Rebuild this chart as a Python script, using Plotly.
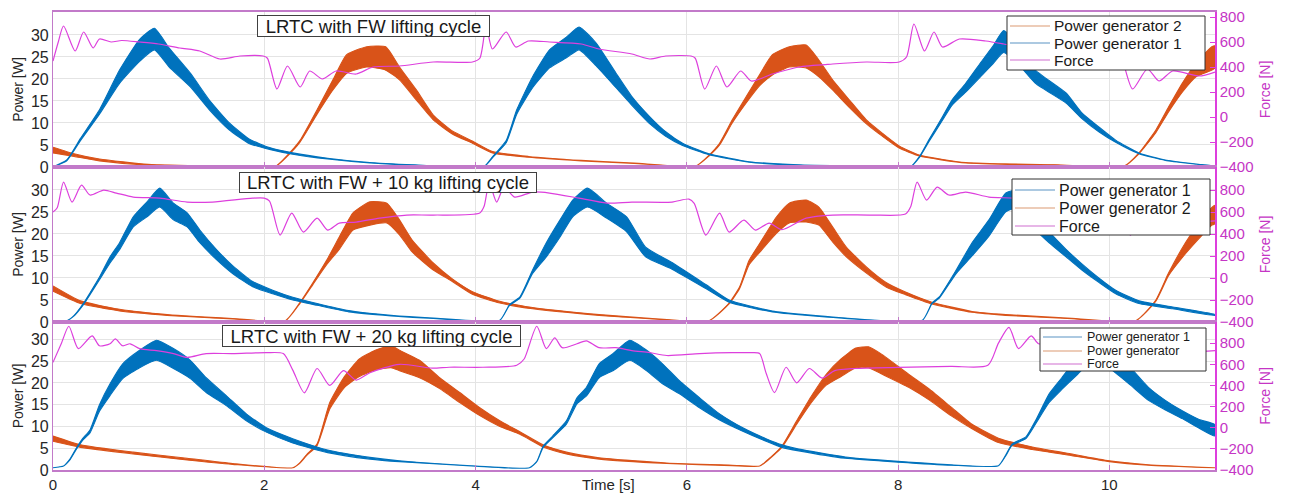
import plotly.graph_objects as go

# ---------------- data ----------------
# Panel 1: LRTC with FW lifting cycle
P1_G1_T = [0, 0.13, 0.26, 0.44, 0.63, 0.82, 0.96, 1.1, 1.3, 1.48, 1.67, 1.86, 2.05, 2.27, 2.6, 3.0, 3.5, 4.08,
           4.16, 4.29, 4.39, 4.54, 4.7, 4.86, 4.98, 5.14, 5.33, 5.48, 5.65, 5.8, 5.96, 6.21, 6.59, 7.06, 7.7, 8.12,
           8.2, 8.29, 8.42, 8.51, 8.64, 8.8, 8.9, 9.0, 9.15, 9.3, 9.59, 9.74, 9.9, 10.06, 10.28, 10.53, 10.97, 11.0]
P1_G1_HI = [0, 1.6, 6.5, 13, 22, 29, 31.5, 27, 21.3, 15.2, 10, 6.3, 4.4, 3.2, 2.0, 1.0, 0.4, 0.1,
            2.3, 6.0, 13, 20.5, 26.6, 29.5, 31.8, 28.2, 21.3, 16, 11.4, 8, 5.4, 3.0, 1.2, 0.5, 0.2, 0.1,
            2.3, 6.1, 11.4, 15.2, 19, 24.3, 27.5, 31, 27.5, 22, 16.8, 12.3, 9.1, 6.1, 3.2, 1.6, 0.3, 0.3]
P1_G1_LO = [0, 1.4, 6.0, 12, 19, 24, 26.6, 22.7, 18.2, 13, 8.4, 5.3, 4.0, 2.9, 1.8, 0.9, 0.3, 0.1,
            2.1, 5.5, 12, 18, 22.5, 24.8, 26.6, 23, 18, 14, 9.8, 7, 4.9, 2.8, 1.1, 0.4, 0.2, 0.1,
            2.1, 5.7, 10.6, 14, 17, 21, 23.5, 26, 23, 19, 14.5, 11, 8, 5.6, 3.0, 1.5, 0.3, 0.3]

P1_G2_T = [0, 0.2, 0.44, 0.9, 1.5, 2.1,
           2.22, 2.34, 2.5, 2.65, 2.78, 2.97, 3.15, 3.28, 3.44, 3.6, 3.78, 3.97, 4.16, 4.5, 5.0, 5.5, 6.09,
           6.21, 6.31, 6.43, 6.56, 6.69, 6.81, 6.97, 7.13, 7.25, 7.38, 7.54, 7.7, 7.85, 8.01, 8.2, 8.64, 9.5, 10.14,
           10.28, 10.44, 10.56, 10.69, 10.82, 10.97, 11.0]
P1_G2_HI = [4.5, 3.0, 1.8, 0.6, 0.2, 0.05,
            2.7, 6.1, 13, 19.8, 25.5, 27.3, 27.3, 22.7, 17.5, 11.8, 8.2, 5.9, 3.5, 2.4, 1.5, 0.9, 0.3,
            2.7, 5.4, 10.7, 15.9, 21, 25.5, 27.3, 27.7, 24.3, 19.8, 15.2, 10.7, 7.7, 4.8, 2.7, 1.0, 0.5, 0.2,
            3.2, 8.4, 13.6, 19, 23.6, 27.3, 27.5]
P1_G2_LO = [3.2, 2.4, 1.4, 0.4, 0.15, 0.05,
            2.5, 5.7, 12, 17.5, 21.3, 22.7, 22, 19.8, 15.2, 10.7, 7.5, 5.4, 3.2, 2.2, 1.4, 0.8, 0.3,
            2.5, 5.0, 10, 14.5, 18.5, 20.9, 22.7, 22.5, 20.5, 17.5, 13.5, 9.8, 7, 4.3, 2.5, 0.9, 0.4, 0.2,
            3.0, 7.8, 12.5, 17, 20.5, 22, 22.5]

P1_F_T = [0, 0.05, 0.1, 0.21, 0.29, 0.38, 0.44, 0.55, 0.65, 0.82, 1.0, 1.2, 1.39, 1.58, 1.77, 1.99,
          2.03, 2.12, 2.22, 2.34, 2.43, 2.55, 2.68, 2.87, 3.03, 3.28, 3.6, 3.97,
          4.04, 4.1, 4.16, 4.29, 4.38, 4.5, 4.7, 5.0, 5.17, 5.48, 5.65, 5.8, 6.04,
          6.08, 6.17, 6.28, 6.38, 6.51, 6.61, 6.81, 7.06, 7.38, 7.7, 8.01,
          8.08, 8.15, 8.25, 8.34, 8.42, 8.58, 8.83, 9.0, 9.2, 9.45, 9.65, 9.85, 10.1,
          10.13, 10.22, 10.36, 10.47, 10.6, 10.85, 11.0]
P1_F = [448, 600, 728, 528, 680, 552, 624, 600, 612, 600, 584, 552, 528, 464, 488, 488,
        470, 224, 408, 240, 368, 304, 368, 344, 400, 408, 440, 440,
        470, 728, 544, 680, 560, 608, 600, 584, 544, 504, 464, 488, 488,
        470, 224, 408, 240, 368, 288, 344, 400, 424, 440, 440,
        480, 744, 528, 680, 560, 624, 608, 584, 552, 528, 464, 488, 488,
        440, 224, 384, 288, 368, 328, 360]

# Panel 2: LRTC with FW + 10 kg lifting cycle
P2_G1_T = [0, 0.13, 0.2, 0.29, 0.35, 0.44, 0.54, 0.63, 0.76, 0.89, 1.01, 1.14, 1.27, 1.39, 1.55, 1.7, 1.89, 2.08, 2.27, 2.5, 2.8, 3.2, 3.6, 4.23,
           4.32, 4.42, 4.54, 4.67, 4.8, 4.92, 5.06, 5.24, 5.43, 5.61, 5.86, 6.18, 6.4, 6.81, 7.44, 8.23,
           8.32, 8.39, 8.55, 8.7, 8.86, 9.02, 9.15, 9.3, 9.43, 9.59, 9.74, 9.9, 10.06, 10.28, 10.6, 11.0]
P2_G1_HI = [0.3, 0.3, 1.5, 4.3, 6.6, 10.2, 14.8, 18, 23.9, 27.3, 30.4, 27, 24.8, 20.9, 16.4, 12.8, 9.2, 7.2, 5.6, 4.2, 2.6, 1.5, 0.9, 0.4,
            3.9, 5.7, 11.8, 18, 23.2, 27.7, 30.4, 27, 23.9, 17, 13.5, 8.5, 5.0, 2.5, 1.0, 0.4,
            4.3, 5.7, 11.8, 18, 23.2, 29.3, 30, 24.5, 20.5, 16.5, 13.2, 10, 7.2, 4.8, 3.4, 1.7]
P2_G1_LO = [0.3, 0.3, 1.4, 4.0, 6.2, 9.6, 13.4, 16.4, 21.6, 23.9, 26.1, 23.2, 21.6, 18, 14.1, 11, 8, 6.4, 5.0, 3.8, 2.3, 1.4, 0.8, 0.4,
            3.7, 5.4, 11, 14.8, 19.3, 23.9, 26.1, 23.6, 20.5, 14.8, 12, 7.6, 4.5, 2.3, 0.9, 0.4,
            4.1, 5.4, 11, 15, 19.5, 25, 26, 21, 18, 14.8, 11.8, 9, 6.4, 4.2, 3.0, 1.5]

P2_G2_T = [0, 0.26, 0.63, 1.08, 1.7, 2.2,
           2.34, 2.46, 2.59, 2.71, 2.84, 3.0, 3.16, 3.28, 3.4, 3.6, 3.78, 3.97, 4.23, 4.54, 5.17, 5.61, 6.21,
           6.4, 6.5, 6.59, 6.71, 6.85, 6.97, 7.13, 7.25, 7.38, 7.51, 7.7, 7.89, 8.07, 8.32, 8.7, 9.02, 9.6, 10.25,
           10.44, 10.56, 10.72, 10.85, 10.97, 11.0]
P2_G2_HI = [8.2, 4.8, 2.9, 1.7, 0.8, 0.3,
            4.5, 8.9, 14, 19.3, 24.8, 27.3, 27, 23.2, 18.6, 13.4, 9.8, 6.9, 4.7, 3.3, 1.7, 0.9, 0.3,
            4.3, 8, 14, 18.6, 23.9, 27, 27.7, 26.1, 21.6, 17, 12.5, 8.9, 6.8, 4.5, 2.4, 1.7, 0.9, 0.3,
            5, 11.1, 18, 22.5, 26, 26.5]
P2_G2_LO = [7.0, 4.2, 2.5, 1.5, 0.7, 0.3,
            4.3, 8.5, 13, 16.5, 20.9, 22, 22.5, 19.8, 15.9, 11.8, 9.2, 6.3, 4.3, 3.0, 1.5, 0.8, 0.3,
            4.1, 7.6, 13, 16.4, 20.2, 22.5, 22.7, 22, 18.2, 14.8, 11.1, 7.9, 6.2, 4.1, 2.2, 1.5, 0.8, 0.3,
            4.7, 10.5, 15.5, 19, 22, 22.3]

P2_F_T = [0, 0.04, 0.1, 0.18, 0.27, 0.35, 0.48, 0.6, 0.76, 1.01, 1.27, 1.51, 1.89, 2.0,
          2.05, 2.15, 2.26, 2.37, 2.5, 2.6, 2.71, 2.87, 3.09, 3.35, 3.6, 4.04,
          4.08, 4.13, 4.2, 4.27, 4.37, 4.54, 4.7, 4.98, 5.24, 5.48, 5.86, 6.02,
          6.07, 6.18, 6.31, 6.4, 6.54, 6.65, 6.78, 6.9, 7.13, 7.38, 7.75, 8.07,
          8.12, 8.18, 8.27, 8.37, 8.48, 8.64, 8.86, 9.1, 9.4, 9.7, 10.05,
          10.1, 10.2, 10.33, 10.43, 10.56, 10.67, 10.8, 11.0]
P2_F = [600, 640, 873, 691, 845, 755, 800, 773, 736, 727, 691, 691, 727, 727,
        700, 391, 591, 418, 545, 436, 500, 509, 545, 573, 573, 591,
        650, 864, 691, 827, 736, 782, 773, 727, 682, 691, 691, 718,
        680, 391, 591, 418, 527, 436, 500, 440, 545, 573, 573, 582,
        650, 873, 709, 827, 755, 782, 736, 727, 691, 691, 718,
        680, 391, 591, 418, 530, 436, 500, 520]

# Panel 3: LRTC with FW + 20 kg lifting cycle
P3_G1_T = [0, 0.1, 0.16, 0.22, 0.28, 0.35, 0.44, 0.54, 0.66, 0.82, 0.98, 1.14, 1.3, 1.45, 1.64, 1.83, 2.02, 2.27, 2.6, 3.0, 3.28, 4.0, 4.51,
           4.58, 4.64, 4.73, 4.86, 4.96, 5.05, 5.17, 5.3, 5.46, 5.62, 5.77, 5.93, 6.12, 6.31, 6.53, 6.75, 6.9, 7.06, 7.5, 8.0, 8.5, 8.95,
           9.02, 9.08, 9.21, 9.3, 9.43, 9.55, 9.7, 9.85, 10.02, 10.2, 10.37, 10.53, 10.69, 10.85, 11.0]
P3_G1_HI = [0.5, 0.9, 2.5, 5, 7.2, 9.2, 15, 19.8, 24.4, 27.5, 29.8, 27.9, 25.2, 21.2, 17.1, 12.9, 9.7, 7.2, 4.6, 2.9, 2.1, 0.9, 0.5,
            2, 5.5, 7.8, 11.3, 16.6, 19, 24.4, 26.7, 29.8, 27.5, 24.4, 20.5, 16.6, 12.9, 9.7, 7.2, 5.8, 4.8, 3.0, 2.0, 1.2, 1.0,
            3.5, 6, 7.6, 11.3, 17.5, 21.2, 26, 29.8, 27.5, 23.5, 19, 16, 13.6, 11.6, 10.4]
P3_G1_LO = [0.5, 0.9, 2.3, 4.7, 6.8, 8.5, 13.5, 17.1, 21, 23.5, 25.2, 23.3, 21, 17.8, 14.8, 11.3, 8.7, 6.2, 4.0, 2.5, 1.9, 0.9, 0.5,
            1.9, 5.2, 7.4, 10.5, 15.2, 17, 21.2, 22.8, 25.2, 22.8, 19.8, 17.5, 14.3, 11.5, 8.9, 6.6, 5.2, 4.4, 2.7, 1.8, 1.1, 1.0,
            3.3, 5.7, 7.2, 10.5, 15.5, 18.5, 22, 25.2, 23, 19.5, 16, 13.8, 11.8, 9.6, 7.8]

P3_G2_T = [0, 0.26, 0.76, 1.27, 1.7, 2.27,
           2.33, 2.4, 2.5, 2.62, 2.76, 2.9, 3.05, 3.2, 3.28, 3.47, 3.66, 3.85, 4.04, 4.23, 4.42, 4.64, 4.86, 5.17, 5.81, 6.43, 6.69,
           6.75, 6.9, 7.04, 7.18, 7.32, 7.46, 7.6, 7.72, 7.85, 8.1, 8.3, 8.5, 8.7, 8.95, 9.27, 9.59, 10.0, 10.37, 11.0]
P3_G2_HI = [7.8, 5.8, 4.1, 2.7, 1.5, 0.5,
            1.5, 3.5, 6, 15.5, 21.5, 25.5, 27.5, 28.6, 27.5, 25.2, 21.2, 17.8, 14.3, 11.3, 8.8, 5.8, 4.1, 2.8, 1.6, 1.1, 0.9,
            2, 5.5, 11.3, 17, 22, 25.5, 28, 28.3, 26.5, 22, 18.5, 14.5, 10.5, 7.3, 5.3, 3.9, 2.1, 1.2, 0.5]
P3_G2_LO = [6.6, 5.2, 3.7, 2.3, 1.3, 0.5,
            1.4, 3.3, 5.6, 14, 19, 21.5, 23, 23.5, 22.8, 21.2, 18.7, 15.5, 12.5, 10, 8.2, 5.3, 3.7, 2.5, 1.5, 1.0, 0.9,
            1.9, 5.2, 10.5, 15.5, 19.5, 21.5, 23.5, 23.5, 22, 19, 16, 12.5, 9.5, 6.3, 4.7, 3.5, 1.9, 1.1, 0.5]

P3_F_T = [0, 0.08, 0.15, 0.24, 0.37, 0.44, 0.54, 0.59, 0.66, 0.73, 0.82, 0.98, 1.14, 1.27, 1.45, 1.7, 2.02, 2.18,
          2.27, 2.38, 2.5, 2.62, 2.75, 2.87, 3.0, 3.28, 3.59, 3.75, 4.07, 4.39,
          4.46, 4.58, 4.67, 4.75, 4.82, 4.96, 5.05, 5.17, 5.33, 5.48, 5.65, 5.81, 6.12, 6.43, 6.62, 6.69,
          6.75, 6.83, 6.94, 7.04, 7.16, 7.28, 7.4, 7.6, 8.0, 8.5, 8.85,
          8.95, 9.05, 9.14, 9.26, 9.33, 9.45, 9.6, 9.8, 10.0, 10.4, 10.8, 11.0]
P3_F = [618, 800, 960, 748, 868, 775, 794, 840, 775, 794, 748, 729, 701, 665, 701, 701, 710, 701,
        545, 330, 560, 400, 540, 450, 520, 600, 563, 572, 572, 591,
        650, 960, 748, 849, 757, 794, 822, 757, 757, 729, 710, 683, 701, 710, 710, 701,
        517, 332, 572, 425, 560, 470, 540, 560, 570, 580, 590,
        800, 950, 748, 868, 794, 800, 820, 760, 750, 730, 720, 729]

TITLES = ["LRTC with FW lifting cycle", "LRTC with FW + 10 kg lifting cycle", "LRTC with FW + 20 kg lifting cycle"]
LEGEND_NAMES = [["Power generator 2", "Power generator 1", "Force"],
                ["Power generator 1", "Power generator 2", "Force"],
                ["Power generator 1", "Power generator", "Force"]]
POWER_TICKS = [0, 5, 10, 15, 20, 25, 30]
FORCE_TICKS = [-400, -200, 0, 200, 400, 600, 800]
TIME_TICKS = [0, 2, 4, 6, 8, 10]

# ---------------- styling ----------------
BLUE = "#0072BD"
ORANGE = "#D95319"
MAGENTA = "#dd3fdd"
MAG_TXT = "#c535c5"
FRAME = "#c27ac9"
FONT = "Liberation Sans, Arial, sans-serif"
LEG_COL = {"Power generator 1": "#5b93c4", "Power generator 2": "#dc9a72",
           "Power generator": "#dc9a72", "Force": "#cf6fcf"}

# the page body has an 8 px margin, so the figure is drawn 8 px right/down
OFF = 8
W, H = 1293 - OFF, 494 - OFF
PLOT_L, PLOT_R, PLOT_T, PLOT_B = 53, 1215, 12, 470   # target screen pixels
L, T = PLOT_L - OFF, PLOT_T - OFF
R, B = W - (PLOT_R - OFF), H - (PLOT_B - OFF)
PH = H - T - B
PW = W - L - R


def py(px):  # screen pixel y -> paper y
    return (PLOT_B - px) / PH


def pxx(px):  # screen pixel x -> paper x
    return (px - PLOT_L) / PW


panels = [
    dict(G1=(P1_G1_T, P1_G1_HI, P1_G1_LO), G2=(P1_G2_T, P1_G2_HI, P1_G2_LO), F=(P1_F_T, P1_F),
         dom=[py(167), 1.0], prange=[0, 35.2], frange=[-400, 840]),
    dict(G1=(P2_G1_T, P2_G1_HI, P2_G1_LO), G2=(P2_G2_T, P2_G2_HI, P2_G2_LO), F=(P2_F_T, P2_F),
         dom=[py(322), py(167)], prange=[0, 35.2], frange=[-400, 1010]),
    dict(G1=(P3_G1_T, P3_G1_HI, P3_G1_LO), G2=(P3_G2_T, P3_G2_HI, P3_G2_LO), F=(P3_F_T, P3_F),
         dom=[0.0, py(322)], prange=[0, 34], frange=[-400, 1000]),
]

fig = go.Figure()


def band(t, hi, lo, color, xa, ya, name):
    xs = list(t) + list(t)[::-1]
    ys = list(hi) + list(lo)[::-1]
    return go.Scatter(x=xs, y=ys, mode="lines", fill="toself", fillcolor=color, name=name,
                      line=dict(color=color, width=1.1, shape="spline", smoothing=0.5),
                      xaxis=xa, yaxis=ya, showlegend=False, hoverinfo="skip")


for i, p in enumerate(panels):
    xa = "x" if i == 0 else f"x{i + 1}"
    ya = "y" if i == 0 else f"y{2 * i + 1}"
    yf = f"y{2 * i + 2}"
    fig.add_trace(band(*p["G2"], ORANGE, xa, ya, "Power generator 2"))
    fig.add_trace(band(*p["G1"], BLUE, xa, ya, "Power generator 1"))
    fig.add_trace(go.Scatter(x=p["F"][0], y=p["F"][1], mode="lines", name="Force",
                             line=dict(color=MAGENTA, width=1.2, shape="spline", smoothing=0.7),
                             xaxis=xa, yaxis=yf, showlegend=False, hoverinfo="skip"))

layout = dict(
    template="none", showlegend=False,
    width=W, height=H, margin=dict(l=L, r=R, t=T, b=B, autoexpand=False),
    paper_bgcolor="white", plot_bgcolor="white",
    font=dict(family=FONT, color="#262626"),
)

for i, p in enumerate(panels):
    xk = "xaxis" if i == 0 else f"xaxis{i + 1}"
    yk = "yaxis" if i == 0 else f"yaxis{2 * i + 1}"
    yfk = f"yaxis{2 * i + 2}"
    yname = "y" if i == 0 else f"y{2 * i + 1}"
    xname = "x" if i == 0 else f"x{i + 1}"
    layout[xk] = dict(domain=[0, 1], anchor=yname, range=[0, 11], tickvals=TIME_TICKS,
                      showticklabels=(i == 2), showgrid=True, gridcolor="#e4e4e4", gridwidth=1,
                      zeroline=False, showline=True, linecolor=FRAME, linewidth=1.5, mirror=True,
                      ticks="inside", ticklen=5, tickcolor=FRAME, automargin=False,
                      tickfont=dict(size=15, color="#262626"))
    if i > 0:
        layout[xk]["matches"] = "x"
    layout[yk] = dict(domain=p["dom"], anchor=xname, range=p["prange"], tickvals=POWER_TICKS,
                      showgrid=True, gridcolor="#e4e4e4", zeroline=False,
                      showline=True, linecolor=FRAME, linewidth=1.2,
                      ticks="", tickfont=dict(size=16, color="#262626"),
                      title=dict(text="Power [W]", font=dict(size=14, color="#262626"), standoff=4),
                      automargin=False)
    layout[yfk] = dict(overlaying=yname, side="right", anchor=xname, range=p["frange"],
                       tickvals=FORCE_TICKS, showgrid=False, zeroline=False,
                       showline=True, linecolor=MAGENTA, linewidth=1.5,
                       ticks="inside", ticklen=5, tickcolor=MAGENTA,
                       tickfont=dict(size=15, color=MAG_TXT),
                       title=dict(text="Force [N]", font=dict(size=14, color=MAG_TXT), standoff=8),
                       automargin=False)

shapes = []
annotations = []

# legend boxes (MATLAB-style, placed as in the reference)
# (box x0, x1, y0, y1, sample x0, x1, text x, row centres, font size)
legend_boxes = [
    (1007, 1205, 16, 70, 1010, 1050, 1053, (26, 43, 60), 15.5),
    (1012, 1210, 179, 235, 1015, 1055, 1058, (190, 208, 226), 16),
    (1040, 1206, 328, 371, 1043, 1082, 1086, (337, 351, 364), 12.5),
]
for i, (bx0, bx1, by0, by1, sx0, sx1, tx, rows, fs) in enumerate(legend_boxes):
    shapes.append(dict(type="rect", xref="paper", yref="paper", layer="above",
                       x0=pxx(bx0), x1=pxx(bx1), y0=py(by1), y1=py(by0),
                       fillcolor="white", line=dict(color="#303030", width=1)))
    for nm, ry in zip(LEGEND_NAMES[i], rows):
        shapes.append(dict(type="line", xref="paper", yref="paper", layer="above",
                           x0=pxx(sx0), x1=pxx(sx1), y0=py(ry), y1=py(ry),
                           line=dict(color=LEG_COL[nm], width=1.2)))
        annotations.append(dict(text=nm, xref="paper", yref="paper", x=pxx(tx), y=py(ry),
                                xanchor="left", yanchor="middle", showarrow=False, borderpad=0,
                                font=dict(size=fs, color="#1a1a1a", family=FONT)))

title_box = [(257, 490, 15, 37), (239, 537, 172, 193), (222, 521, 325, 347)]
for i, (x0, x1, y0, y1) in enumerate(title_box):
    annotations.append(dict(text=TITLES[i], xref="paper", yref="paper",
                            x=pxx((x0 + x1) / 2), y=py((y0 + y1) / 2),
                            xanchor="center", yanchor="middle", showarrow=False,
                            width=x1 - x0 - 2, height=y1 - y0 - 2, align="center", valign="middle",
                            font=dict(size=18.5, color="#1a1a1a", family=FONT),
                            bgcolor="white", bordercolor="#404040", borderwidth=1, borderpad=0))
annotations.append(dict(text="Time [s]", xref="paper", yref="paper", x=pxx(608), y=py(484),
                        xanchor="center", yanchor="middle", showarrow=False,
                        font=dict(size=15, color="#262626", family=FONT)))
layout["annotations"] = annotations
layout["shapes"] = shapes

fig.update_layout(**layout)
fig.write_html("out.html")
